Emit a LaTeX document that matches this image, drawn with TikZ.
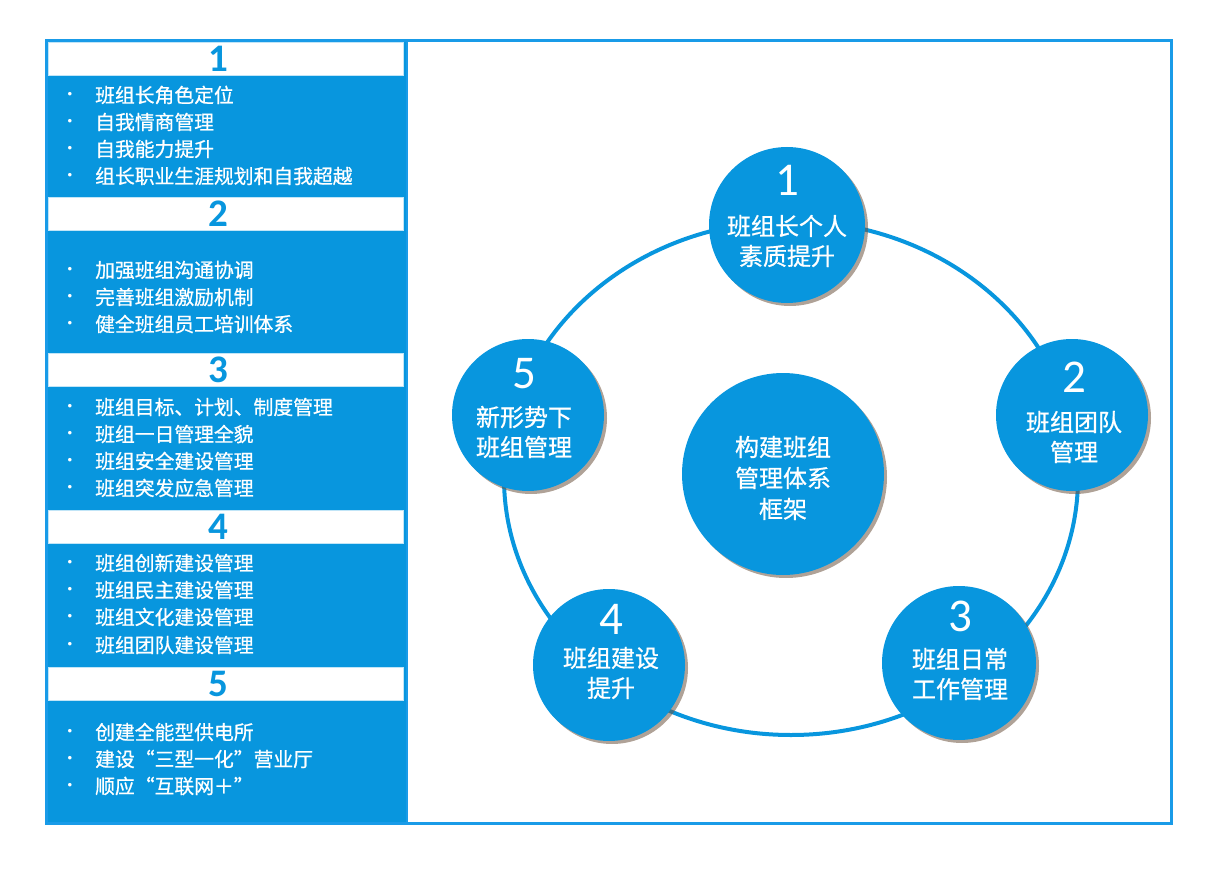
\documentclass[tikz,border=0pt]{standalone}
\usepackage{fontspec}
\setmainfont{Noto Sans CJK SC}
\newfontfamily\numfont{Carlito}
\newfontfamily\cjkm{Noto Sans CJK SC}[FakeBold=0.7]
\newcommand\myfq[1]{{\addfontfeature{CharacterWidth=Full}#1}}
\usetikzlibrary{shadows}
\definecolor{mainblue}{RGB}{8,150,222}
\definecolor{frameblue}{RGB}{25,155,232}
\definecolor{shadowc}{RGB}{110,85,65}
\begin{document}
\begin{tikzpicture}[x=1pt,y=-1pt,
 header/.style={draw=mainblue!25, fill=white, line width=0.6pt, minimum width=355pt, minimum height=33pt, inner sep=0pt},
 hnum/.style={text=mainblue, inner sep=0pt, font=\numfont\bfseries\fontsize{39}{39}\selectfont},
 item/.style={anchor=west, text=white, inner sep=0pt, font=\cjkm\fontsize{19.8}{19.8}\selectfont},
 dotmark/.style={text=white, inner sep=0pt, font=\numfont\bfseries\fontsize{19}{19}\selectfont},
 bubble/.style={circle, fill=mainblue, minimum size=154pt, inner sep=0pt,
   drop shadow={shadow xshift=3pt, shadow yshift=-3pt, fill=shadowc, opacity=0.55}},
 ctext/.style={text=white, inner sep=0pt, font=\cjkm\fontsize{24}{30}\selectfont, align=center},
 cnum/.style={text=white, inner sep=0pt, font=\numfont\fontsize{47}{47}\selectfont},
]
\useasboundingbox (0,0) rectangle (1216,872);
% left panel
\fill[mainblue] (45,40) rectangle (407,823);
\draw[frameblue, line width=3pt] (46,41) rectangle (1171,823);
\draw[frameblue, line width=1.5pt] (407,41) -- (407,823);

\node[header] (h1) at (225.5,58.5) {};
\node[header] (h2) at (225.5,214) {};
\node[header] (h3) at (225.5,370) {};
\node[header] (h4) at (225.5,526.5) {};
\node[header] (h5) at (225.5,683.5) {};
\node[hnum] (hn1) at (218,58.5) {1};
\node[hnum] (hn2) at (218,214) {2};
\node[hnum] (hn3) at (218,370) {3};
\node[hnum] (hn4) at (218,526.5) {4};
\node[hnum] (hn5) at (218,683.5) {5};

% section 1
\node[dotmark] (d11) at (70,96) {·};  \node[item] (i11) at (95,95) {班组长角色定位};
\node[dotmark] (d12) at (70,123) {·}; \node[item] (i12) at (95,122) {自我情商管理};
\node[dotmark] (d13) at (70,150) {·}; \node[item] (i13) at (95,149) {自我能力提升};
\node[dotmark] (d14) at (70,177) {·}; \node[item] (i14) at (95,176) {组长职业生涯规划和自我超越};
% section 2
\node[dotmark] (d21) at (70,271) {·}; \node[item] (i21) at (95,270) {加强班组沟通协调};
\node[dotmark] (d22) at (70,298) {·}; \node[item] (i22) at (95,297) {完善班组激励机制};
\node[dotmark] (d23) at (70,325) {·}; \node[item] (i23) at (95,324) {健全班组员工培训体系};
% section 3
\node[dotmark] (d31) at (70,408) {·}; \node[item] (i31) at (95,407) {班组目标、计划、制度管理};
\node[dotmark] (d32) at (70,435) {·}; \node[item] (i32) at (95,434) {班组一日管理全貌};
\node[dotmark] (d33) at (70,462) {·}; \node[item] (i33) at (95,461) {班组安全建设管理};
\node[dotmark] (d34) at (70,489) {·}; \node[item] (i34) at (95,488) {班组突发应急管理};
% section 4
\node[dotmark] (d41) at (70,564) {·}; \node[item] (i41) at (95,563) {班组创新建设管理};
\node[dotmark] (d42) at (70,591) {·}; \node[item] (i42) at (95,590) {班组民主建设管理};
\node[dotmark] (d43) at (70,618) {·}; \node[item] (i43) at (95,617) {班组文化建设管理};
\node[dotmark] (d44) at (70,646) {·}; \node[item] (i44) at (95,645) {班组团队建设管理};
% section 5
\node[dotmark] (d51) at (70,733) {·}; \node[item] (i51) at (95,732) {创建全能型供电所};
\node[dotmark] (d52) at (70,760) {·}; \node[item] (i52) at (95,759) {建设\myfq{“}三型一化\myfq{”}营业厅};
\node[dotmark] (d53) at (70,787) {·}; \node[item] (i53) at (95,786) {顺应\myfq{“}互联网＋\myfq{”}};

% ring
\coordinate (ringc) at (791,478);
\draw[mainblue, line width=4pt] (ringc) ellipse [x radius=287pt, y radius=257pt];

% bubbles
\node[bubble, minimum size=202pt] (cc) at (783,474) {};
\node[bubble, minimum size=156pt] (c1) at (787,225) {};
\node[bubble, minimum size=152pt] (c2) at (1072,415) {};
\node[bubble, minimum size=154pt] (c3) at (959,663) {};
\node[bubble, minimum size=152pt] (c4) at (609,665) {};
\node[bubble, minimum size=152pt] (c5) at (528,415) {};

\node[ctext, font=\cjkm\fontsize{24}{31}\selectfont] (tc) at (783,478) {构建班组\\管理体系\\框架};
\node[cnum] (n1) at (787,180) {1};
\node[ctext] (t1) at (787,241) {班组长个人\\素质提升};
\node[cnum] (n2) at (1074,377) {2};
\node[ctext] (t2) at (1074,437) {班组团队\\管理};
\node[cnum] (n3) at (960,616) {3};
\node[ctext] (t3) at (960,674) {班组日常\\工作管理};
\node[cnum] (n4) at (611,619) {4};
\node[ctext] (t4) at (611,673) {班组建设\\提升};
\node[cnum] (n5) at (524,374) {5};
\node[ctext] (t5) at (524,432) {新形势下\\班组管理};
\end{tikzpicture}
\end{document}
